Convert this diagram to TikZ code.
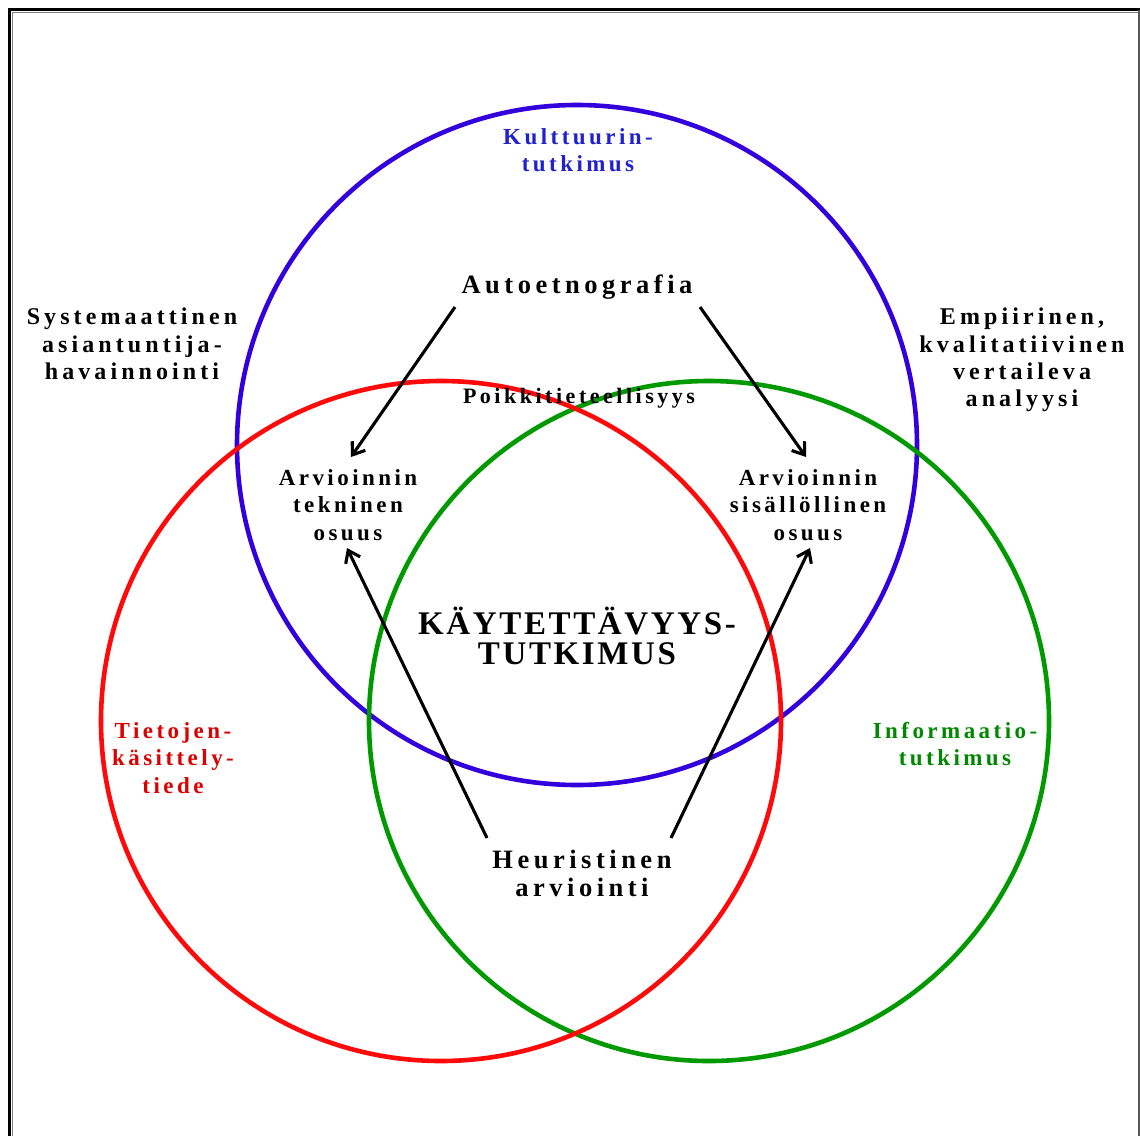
\documentclass[tikz,border=0pt]{standalone}
\usepackage{fontspec}
\setmainfont{Liberation Serif}
\newfontfamily\spA[LetterSpace=15]{Liberation Serif}
\newfontfamily\spC[LetterSpace=17]{Liberation Serif}
\newfontfamily\spB[LetterSpace=16]{Liberation Serif}
\newfontfamily\spD[LetterSpace=8]{Liberation Serif}
\usetikzlibrary{arrows.meta}
\definecolor{cblue}{HTML}{3300DD}
\definecolor{cred}{HTML}{FF0A0A}
\definecolor{cgreen}{HTML}{009A00}
\definecolor{tblue}{HTML}{2222CC}
\definecolor{tred}{HTML}{DD0000}
\definecolor{tgreen}{HTML}{008800}
\begin{document}
\begin{tikzpicture}[x=1pt,y=-1pt,
  ring/.style={line width=4.6pt},
  lbl/.style={font=\spA\bfseries\fontsize{23}{27.5}\selectfont, align=center, inner sep=0pt},
  outlbl/.style={font=\spC\bfseries\fontsize{24}{27.3}\selectfont, align=center, inner sep=0pt},
  biglbl/.style={font=\spC\bfseries\fontsize{26.5}{28}\selectfont, align=center, inner sep=0pt},
  arr/.style={line width=3.1pt, -{Straight Barb[length=11pt,width=16pt,line width=3.1pt]}}]
\useasboundingbox (0,0) rectangle (1140,1135);
\fill[white] (0,0) rectangle (1140,1135);
% frame
\draw[line width=3.5pt] (9.5,1140) -- (9.5,9.5) -- (1140,9.5);
\draw[gray, line width=1pt] (12,1140) -- (12,12) -- (1138,12);
\draw[gray!70!black, line width=1.2pt] (1139,9.5) -- (1139,1140);
% circles
\draw[ring, cblue] (577,445) circle[radius=340];
\draw[ring, cgreen] (709,721) circle[radius=340];
\draw[ring, cred] (441,721) circle[radius=340];
% labels
\node[lbl, text=tblue] (kult) at (578,150) {Kulttuurin-\\tutkimus};
\node[biglbl] (auto) at (577,287) {Autoetnografia};
\node[outlbl] (syst) at (132,344) {Systemaattinen\\asiantuntija-\\havainnointi};
\node[outlbl] (empi) at (1022,360) {Empiirinen,\\kvalitatiivinen\\vertaileva\\analyysi};
\node[font=\spB\bfseries\fontsize{22}{24}\selectfont, inner sep=0pt] (poik) at (579,398) {Poikkitieteellisyys};
\node[lbl] (tekn) at (348,505) {Arvioinnin\\tekninen\\osuus};
\node[lbl] (sisa) at (808,505) {Arvioinnin\\sisällöllinen\\osuus};
\node[font=\spD\bfseries\fontsize{33}{30}\selectfont, align=center, inner sep=0pt] (kayt) at (577,636) {KÄYTETTÄVYYS-\\TUTKIMUS};
\node[lbl, text=tred] (tiet) at (173,758) {Tietojen-\\käsittely-\\tiede};
\node[lbl, text=tgreen] (info) at (955,744) {Informaatio-\\tutkimus};
\node[biglbl] (heur) at (582,873) {Heuristinen\\arviointi};
% arrow endpoints
\coordinate (a1s) at (455,307);
\coordinate (a1e) at (351,457);
\coordinate (a2s) at (700,307);
\coordinate (a2e) at (806,457);
\coordinate (h1s) at (487,838);
\coordinate (h1e) at (347,548);
\coordinate (h2s) at (671,838);
\coordinate (h2e) at (810,548);
\draw[arr] (a1s) -- (a1e);
\draw[arr] (a2s) -- (a2e);
\draw[arr] (h1s) -- (h1e);
\draw[arr] (h2s) -- (h2e);
\end{tikzpicture}
\end{document}
